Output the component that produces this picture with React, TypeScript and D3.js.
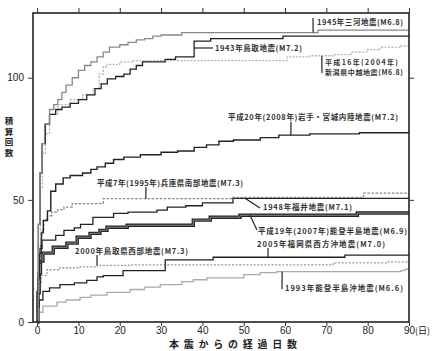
import React, { useEffect, useRef } from 'react';
import * as d3 from 'd3';

const W = 436;
const H = 351;
const frame = { left: 33, right: 409, top: 13, bottom: 322 };

// tick values
const dayTicks = [0, 10, 20, 30, 40, 50, 60, 70, 80, 90];
const countTicks = [0, 50, 100];

// cumulative aftershock counts: [elapsed day, count]
const mikawa1945 = [[0,0],[0.3,40],[0.7,61],[1.2,73],[1.8,81],[3,87],[4,89],[5,91],[6,94],[7,97],[8.5,100],[10,103],[11.5,105],[13,106.5],[14.5,108.5],[16,110.5],[17.5,112.5],[20,113.5],[22,114.5],[24,115.5],[26,116],[28,117],[30,117.5],[35,118.5],[68,119.5],[90,119.5]];
const tottori1943 = [[0,0],[0.3,40],[0.7,61],[1.2,73],[2,81],[3,85],[4.5,87],[6,88],[8,89.5],[10,91],[12,93],[14,95.5],[15.5,97.5],[17,99.5],[19,100.5],[21,101.5],[22.5,103.5],[24,105],[25.5,106.5],[31,107.5],[33.5,108.5],[38,115],[42,116],[59.5,117],[90,117]];
const niigata2004 = [[0,0],[0.3,35],[0.8,55],[1.3,69],[2,77],[3,85],[5,89],[8,91],[11,93],[13.5,95.5],[15,101.5],[16,104.5],[17,105.5],[20,106.5],[23,107],[60.5,108.5],[66,109],[72,109.5],[76,110.5],[80,111.5],[83,112.5],[88,113],[90,113]];
const iwate2008 = [[0,0],[0.2,18],[0.5,28],[1,36.5],[1.5,41.5],[2.5,45.5],[3.3,53.5],[4.5,56.5],[6.3,59],[8,60],[11,61],[13,62.5],[14.5,63.5],[16.5,65],[18.5,66.5],[21,67.5],[25,68.5],[30,69.5],[34,70],[38,71.5],[41,72.5],[44,74],[47.5,74.5],[54,75.5],[58.5,76.5],[66,77],[78,77.5],[90,77.5]];
const hyogo1995 = [[0,0],[0.2,15],[0.5,25],[0.8,32],[1.2,38],[1.6,42],[2.5,43.5],[3.5,45],[5,46],[6.5,47],[8.5,48.5],[16,50.5],[47,51],[79,52.8],[90,52.8]];
const fukui1948 = [[0,0],[0.2,15],[0.4,24],[0.7,30],[1.2,33.5],[4.5,35.5],[6.5,37.5],[9,38.5],[10.5,40],[13.5,42.8],[18.5,44.5],[22,45],[29,45.8],[31.5,47],[36,47.6],[40,48.8],[47.4,50.6],[90,50.6]];
const noto2007 = [[0,0],[0.2,12],[0.5,20],[0.8,25],[1.4,28.2],[3.9,30.6],[7.2,32.3],[9.7,34.7],[12.8,36.3],[15.2,37.5],[16.9,38.8],[21.8,39.6],[37.8,41.7],[41.9,42.9],[49.1,43.7],[77.5,44.6],[90,44.6]];
const tottori2000 = [[0,0],[0.2,10],[0.5,16],[1,19],[2.4,21.4],[5.5,22.2],[10.4,22.6],[14.5,23.2],[22.5,23.4],[71.6,24.2],[85,24.6],[90,24.6]];
const fukuoka2005 = [[0,0],[0.2,6],[0.5,9],[1.4,12.5],[3,14],[5.5,15.3],[9,16],[12,17],[14.5,18.5],[16,19],[20.8,21],[31,25.4],[42.6,26.5],[74.5,27.4],[90,27.4]];
const noto1993 = [[0,0],[0.3,4],[1.4,6.5],[4.8,8.1],[7,9],[10.4,10.1],[13,11],[16.9,12.1],[22.5,13.3],[26,14.3],[29.8,15.3],[35,16.5],[37.8,17.3],[41.1,18.1],[50,19.4],[54,20.2],[58,20.6],[88,21],[89,21.6],[90,21.6]];

const seriesStyles = [
  { data: noto1993, color: '#aaa', width: 1.3 },
  { data: tottori2000, color: '#999', width: 1.3, dash: '2,1.6' },
  { data: fukuoka2005, color: '#222', width: 1.3 },
  { data: noto2007, color: '#222', width: 3.4, inner: '#8a8a8a' },
  { data: fukui1948, color: '#222', width: 1.3 },
  { data: hyogo1995, color: '#888', width: 1.3, dash: '2.5,1.6' },
  { data: iwate2008, color: '#222', width: 1.4 },
  { data: niigata2004, color: '#b4b4b4', width: 1.3, dash: '2,1.4' },
  { data: tottori1943, color: '#222', width: 1.3 },
  { data: mikawa1945, color: '#888', width: 1.3 },
];

// labels: text lines, left x, centre y, width; leader: from curve at day to a pixel point
const notes = [
  { lines: ['1945年三河地震(M6.8)'], x: 317, y: 22, w: 86, series: mikawa1945, day: 66.8, to: [313, 18] },
  { lines: ['1943年鳥取地震(M7.2)'], x: 215, y: 48, w: 87, series: tottori1943, day: 38, to: [213, 48], horiz: true },
  { lines: ['平成16年(2004年)', '新潟県中越地震(M6.8)'], x: 325, y: 61.5, w: 73, w2: 78, size: 7, gap: 10.5, series: niigata2004, day: 68.9, to: [322, 73] },
  { lines: ['平成20年(2008年)岩手・宮城内陸地震(M7.2)'], x: 228, y: 117, w: 170, series: iwate2008, day: 61.4, to: [291, 122] },
  { lines: ['平成7年(1995年)兵庫県南部地震(M7.3)'], x: 97, y: 183, w: 146, series: hyogo1995, day: 26.3, to: [146, 187] },
  { lines: ['1948年福井地震(M7.1)'], x: 263, y: 207, w: 89, series: fukui1948, day: 50.4, to: [260, 208] },
  { lines: ['平成19年(2007年)能登半島地震(M6.9)'], x: 258, y: 231, w: 149, series: noto2007, day: 51.5, to: [257, 230] },
  { lines: ['2005年福岡県西方沖地震(M7.0)'], x: 257, y: 244, w: 128, series: fukuoka2005, day: 55.9, to: [268, 248] },
  { lines: ['2000年鳥取県西部地震(M7.3)'], x: 75, y: 251, w: 113, series: tottori2000, day: 14.5, to: [97, 255] },
  { lines: ['1993年能登半島沖地震(M6.6)'], x: 285, y: 288, w: 118, series: noto1993, day: 59.3, to: [282, 289] },
];

const valueAt = (data, day) => {
  let v = 0;
  data.forEach(([d, c]) => { if (d <= day) v = c; });
  return v;
};

const App = () => {
  const ref = useRef(null);

  useEffect(() => {
    const svg = d3.select(ref.current);
    svg.selectAll('*').remove();

    const x = d3.scaleLinear().domain([-1, 90]).range([frame.left, frame.right]);
    const y = d3.scaleLinear().domain([0, 126.5]).range([frame.bottom, frame.top]);

    svg.append('rect').attr('width', W).attr('height', H).attr('fill', '#fff');

    const line = d3.line()
      .x(d => x(d[0]))
      .y(d => y(d[1]))
      .curve(d3.curveStepAfter);

    seriesStyles.forEach(s => {
      svg.append('path')
        .attr('d', line(s.data))
        .attr('fill', 'none')
        .attr('stroke', s.color)
        .attr('stroke-width', s.width)
        .attr('stroke-dasharray', s.dash || null);
      if (s.inner) {
        svg.append('path')
          .attr('d', line(s.data))
          .attr('fill', 'none')
          .attr('stroke', s.inner)
          .attr('stroke-width', 1);
      }
    });

    // frame and ticks
    svg.append('rect')
      .attr('x', frame.left).attr('y', frame.top)
      .attr('width', frame.right - frame.left)
      .attr('height', frame.bottom - frame.top)
      .attr('fill', 'none').attr('stroke', '#222').attr('stroke-width', 1.6);

    const tickFont = '"Liberation Sans", Arial, sans-serif';
    const axB = svg.append('g').attr('transform', `translate(0,${frame.bottom})`)
      .call(d3.axisBottom(x).tickValues(dayTicks).tickSize(4).tickPadding(0.5));
    const axT = svg.append('g').attr('transform', `translate(0,${frame.top})`)
      .call(d3.axisTop(x).tickValues(dayTicks).tickSize(5).tickFormat(() => ''));
    const axL = svg.append('g').attr('transform', `translate(${frame.left},0)`)
      .call(d3.axisLeft(y).tickValues(countTicks).tickSize(5).tickPadding(4));
    const axR = svg.append('g').attr('transform', `translate(${frame.right},0)`)
      .call(d3.axisRight(y).tickValues([50, 100]).tickSize(5).tickFormat(() => ''));
    [axB, axT, axL, axR].forEach(g => {
      g.select('.domain').remove();
      g.selectAll('line').attr('stroke', '#333').attr('stroke-width', 1);
      g.selectAll('text').attr('font-family', tickFont).attr('font-size', 10).attr('fill', '#222');
    });

    svg.append('text')
      .attr('x', x(90) + 6).attr('y', frame.bottom + 12)
      .attr('font-family', '"Noto Sans CJK JP", sans-serif')
      .attr('font-size', 9).attr('fill', '#222')
      .text('(日)');

    // axis titles
    svg.append('text')
      .attr('x', 233).attr('y', 348)
      .attr('text-anchor', 'middle')
      .attr('font-family', '"Noto Sans CJK JP", sans-serif')
      .attr('font-size', 10).attr('font-weight', 'bold').attr('fill', '#222')
      .attr('textLength', 128).attr('lengthAdjust', 'spacing')
      .text('本震からの経過日数');

    '積算回数'.split('').forEach((ch, i) => {
      svg.append('text')
        .attr('x', 9).attr('y', 124 + i * 10.5)
        .attr('font-family', '"Noto Sans CJK JP", sans-serif')
        .attr('font-size', 8.5).attr('font-weight', 'bold').attr('fill', '#222')
        .attr('text-anchor', 'middle')
        .text(ch);
    });

    // annotations
    notes.forEach(n => {
      const cx = x(n.day);
      const cy = y(valueAt(n.series, n.day));
      svg.append('line')
        .attr('x1', cx).attr('y1', n.horiz ? n.to[1] : cy)
        .attr('x2', n.to[0]).attr('y2', n.to[1])
        .attr('stroke', '#222').attr('stroke-width', 1.2);
      n.lines.forEach((t, i) => {
        svg.append('text')
          .attr('x', n.x).attr('y', n.y + 3 + i * (n.gap || 9))
          .attr('font-family', '"Noto Sans CJK JP", sans-serif')
          .attr('font-size', n.size || 7.5).attr('font-weight', 'bold').attr('fill', '#333')
          .attr('textLength', i === 0 ? n.w : n.w2).attr('lengthAdjust', 'spacing')
          .text(t);
      });
    });
  }, []);

  return (
    <svg ref={ref} width={W} height={H}
      style={{ position: 'absolute', left: 0, top: 0, display: 'block' }} />
  );
};

export default App;
